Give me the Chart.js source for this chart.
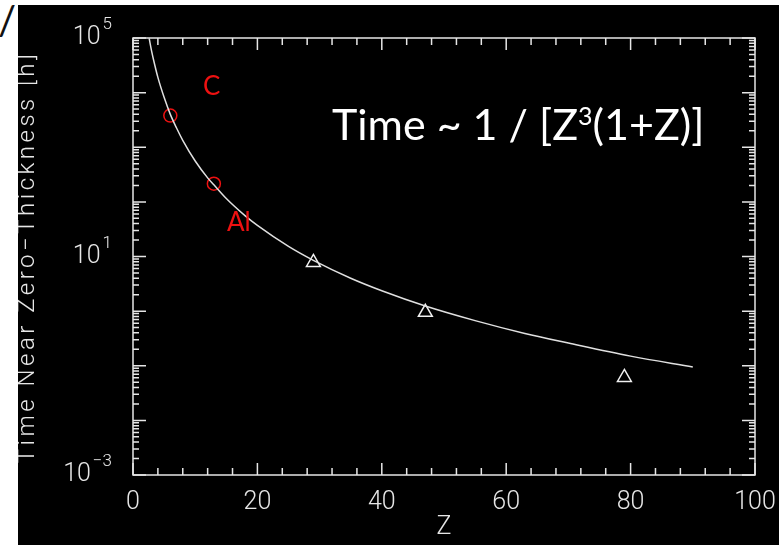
<!DOCTYPE html>
<html>
<head>
<meta charset="utf-8">
<script src="https://cdn.jsdelivr.net/npm/chart.js@4"></script>
<style>
  html, body { margin: 0; padding: 0; background: #fff; overflow: hidden; }
  #panel { position: absolute; left: 18px; top: 5px; width: 761px; height: 540px; background: #000; }
  #slash { position: absolute; left: -2px; top: -4px; font: 40px Lato, sans-serif; color: #111; }
</style>
</head>
<body>
<div id="slash">/</div>
<div id="panel"><canvas id="plot" width="761" height="540"></canvas></div>
<script>
// curve
const curveZ = [2.6, 3, 3.5, 4, 5, 6, 7, 8, 10, 12, 13, 15, 18, 20, 25, 29, 35, 40, 47, 55, 63, 70, 80, 90]
const curveT = [98000, 57000, 32000, 19000, 8200, 4000, 2250, 1340, 560, 275, 205, 115, 56, 37, 15.3, 8.5, 4.0, 2.36, 1.24, 0.67, 0.39, 0.26, 0.15, 0.095]
// measured points
const circleZ = [6, 13]
const circleT = [3800, 215]
const triangleZ = [29, 47, 79]
const triangleT = [7.8, 0.95, 0.061]
// axes
const xTickLabels = [0, 20, 40, 60, 80, 100]
const yDecades = [-3, -2, -1, 0, 1, 2, 3, 4, 5]
const yLabelExps = [-3, 1, 5]

const AXIS = '#e6e6e6'
const RED = '#ee1111'
const axisFont = '300 25px Roboto'

const pts = (xs, ys) => xs.map((x, i) => ({ x: x, y: ys[i] }))

const axesPlugin = {
    id: 'idlAxes',
    afterDatasetsDraw(chart) {
        const ctx = chart.ctx
        const a = chart.chartArea
        const xs = chart.scales.x
        const ys = chart.scales.y
        ctx.save()
        ctx.strokeStyle = AXIS
        ctx.lineWidth = 1.5
        ctx.strokeRect(a.left, a.top, a.right - a.left, a.bottom - a.top)
        ctx.beginPath()
        // x ticks, bottom and top
        for (let z = 0; z <= 100; z += 4) {
            const px = xs.getPixelForValue(z)
            const len = z % 20 === 0 ? 12 : 7
            ctx.moveTo(px, a.bottom); ctx.lineTo(px, a.bottom - len)
            ctx.moveTo(px, a.top); ctx.lineTo(px, a.top + len)
        }
        // y ticks, left and right
        yDecades.forEach((e) => {
            for (let m = 1; m <= 9; m++) {
                if (e === 5 && m > 1) break
                const py = ys.getPixelForValue(m * Math.pow(10, e))
                const len = m === 1 ? 13 : 6
                ctx.moveTo(a.left, py); ctx.lineTo(a.left + len, py)
                ctx.moveTo(a.right, py); ctx.lineTo(a.right - len, py)
            }
        })
        ctx.stroke()

        ctx.fillStyle = AXIS
        // x labels
        ctx.font = axisFont
        ctx.textAlign = 'center'
        ctx.textBaseline = 'middle'
        xTickLabels.forEach((v) => {
            ctx.fillText(String(v), xs.getPixelForValue(v), a.bottom + 28)
        })
        ctx.fillText('Z', (a.left + a.right) / 2, a.bottom + 53)

        // y labels with exponent
        yLabelExps.forEach((e) => {
            const py = ys.getPixelForValue(Math.pow(10, e))
            const exp = e < 0 ? '\u2212' + Math.abs(e) : String(e)
            const endX = a.left - 21
            ctx.font = '300 17px Roboto'
            ctx.textAlign = 'right'
            ctx.fillText(exp, endX, py - 13)
            const ew = ctx.measureText(exp).width
            ctx.font = axisFont
            ctx.fillText('10', endX - ew - 2, py)
        })

        // y title
        ctx.save()
        ctx.translate(16, 252)
        ctx.rotate(-Math.PI / 2)
        ctx.font = '300 24px Roboto'
        ctx.letterSpacing = '3.5px'
        ctx.textAlign = 'center'
        ctx.textBaseline = 'alphabetic'
        ctx.fillText('Time Near Zero\u2212Thickness [h]', 0, 0)
        ctx.restore()

        // annotations
        ctx.textAlign = 'left'
        ctx.textBaseline = 'alphabetic'
        ctx.fillStyle = RED
        ctx.font = '26px Lato'
        ctx.fillText('C', 185, 90)
        ctx.fillText('Al', 209, 226)

        ctx.fillStyle = '#ffffff'
        let x = 314
        const parts = [['Time ~ 1 / [Z', '43px Lato', 0], ['3', '25px Lato', -15], ['(1+Z)]', '43px Lato', 0]]
        parts.forEach((p) => {
            ctx.font = p[1]
            ctx.fillText(p[0], x, 135 + p[2])
            x += ctx.measureText(p[0]).width
        })
        ctx.restore()
    }
}

new Chart(document.getElementById('plot'), {
    type: 'scatter',
    data: {
        datasets: [
            {
                data: pts(curveZ, curveT),
                showLine: true,
                borderColor: '#e0e0e0',
                borderWidth: 1.5,
                pointRadius: 0,
                cubicInterpolationMode: 'monotone'
            },
            {
                data: pts(circleZ, circleT),
                pointStyle: 'circle',
                pointRadius: 6.5,
                borderColor: RED,
                borderWidth: 1.5,
                backgroundColor: 'rgba(0,0,0,0)'
            },
            {
                data: pts(triangleZ, triangleT),
                pointStyle: 'triangle',
                pointRadius: 8,
                borderColor: '#f0f0f0',
                borderWidth: 1.5,
                backgroundColor: 'rgba(0,0,0,0)'
            }
        ]
    },
    options: {
        responsive: false,
        animation: false,
        devicePixelRatio: 1,
        layout: { padding: { left: 115, right: 24, top: 33, bottom: 70 } },
        plugins: { legend: { display: false }, tooltip: { enabled: false } },
        scales: {
            x: { type: 'linear', min: 0, max: 100, display: false },
            y: { type: 'logarithmic', min: 1e-3, max: 1e5, display: false }
        }
    },
    plugins: [axesPlugin]
})
</script>
</body>
</html>
